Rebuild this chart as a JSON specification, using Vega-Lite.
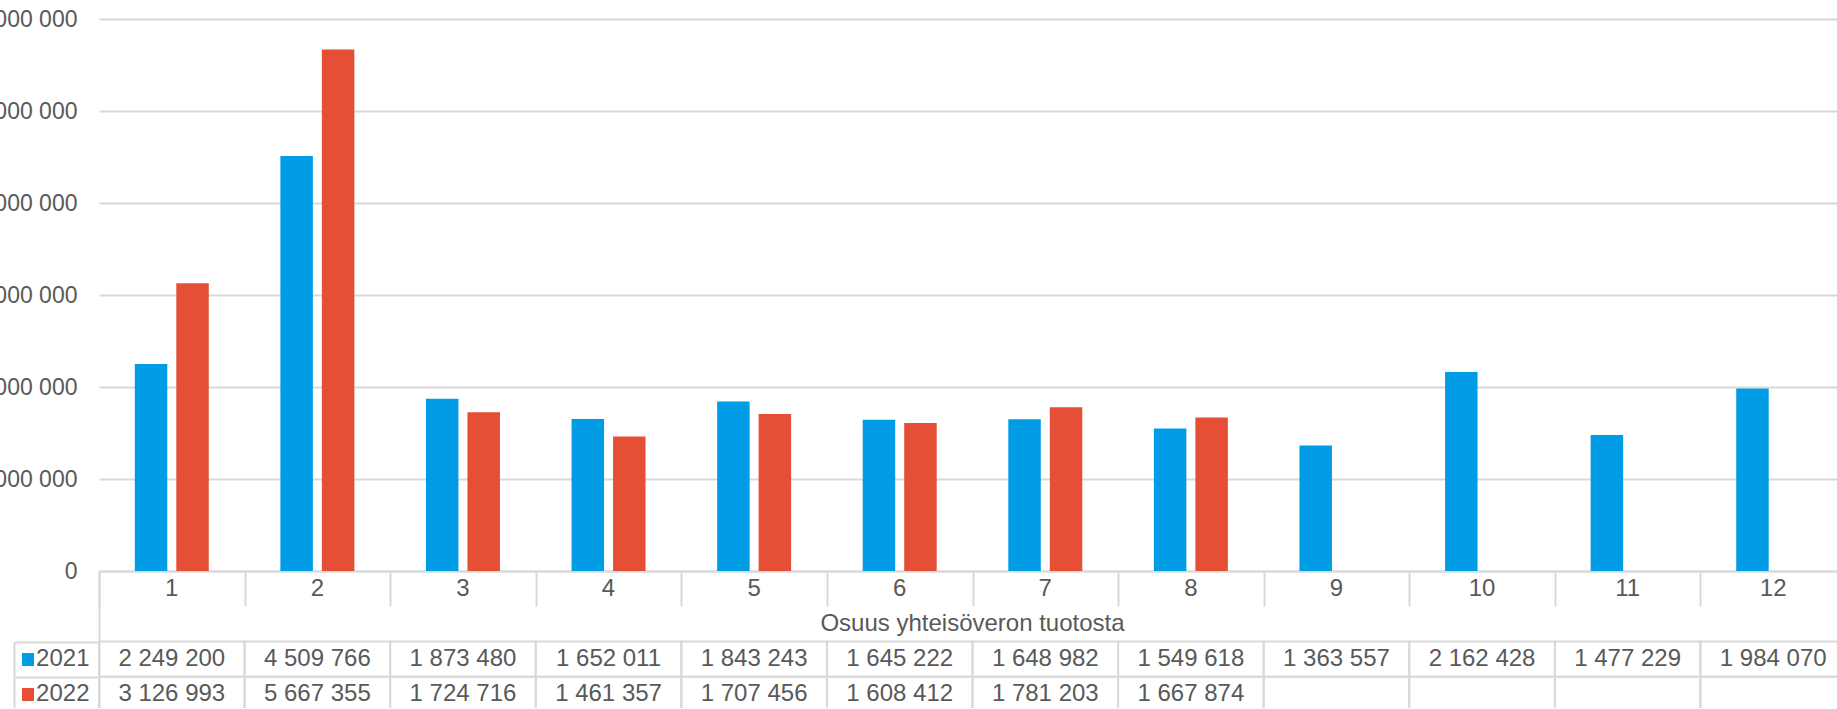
{
  "$schema": "https://vega.github.io/schema/vega-lite/v6.json",
  "padding": {"left": -26, "top": 8, "right": -9, "bottom": -5},
  "background": "white",
  "datasets": {
    "vals": [
      {"cat": 1, "year": "2021", "value": 2249200},
      {"cat": 2, "year": "2021", "value": 4509766},
      {"cat": 3, "year": "2021", "value": 1873480},
      {"cat": 4, "year": "2021", "value": 1652011},
      {"cat": 5, "year": "2021", "value": 1843243},
      {"cat": 6, "year": "2021", "value": 1645222},
      {"cat": 7, "year": "2021", "value": 1648982},
      {"cat": 8, "year": "2021", "value": 1549618},
      {"cat": 9, "year": "2021", "value": 1363557},
      {"cat": 10, "year": "2021", "value": 2162428},
      {"cat": 11, "year": "2021", "value": 1477229},
      {"cat": 12, "year": "2021", "value": 1984070},
      {"cat": 1, "year": "2022", "value": 3126993},
      {"cat": 2, "year": "2022", "value": 5667355},
      {"cat": 3, "year": "2022", "value": 1724716},
      {"cat": 4, "year": "2022", "value": 1461357},
      {"cat": 5, "year": "2022", "value": 1707456},
      {"cat": 6, "year": "2022", "value": 1608412},
      {"cat": 7, "year": "2022", "value": 1781203},
      {"cat": 8, "year": "2022", "value": 1667874},
      {"cat": 9, "year": "2022", "value": null},
      {"cat": 10, "year": "2022", "value": null},
      {"cat": 11, "year": "2022", "value": null},
      {"cat": 12, "year": "2022", "value": null}
    ]
  },
  "vconcat": [
    {
      "width": 1747,
      "height": 552,
      "data": {"name": "vals"},
      "mark": {"type": "bar"},
      "encoding": {
        "x": {
          "field": "cat", "type": "ordinal",
          "scale": {"paddingInner": 0, "paddingOuter": 0},
          "axis": {
            "title": null, "labels": false, "grid": false,
            "domain": true, "domainColor": "#d9d9d9", "domainWidth": 2,
            "ticks": true, "tickBand": "extent", "tickSize": 35, "tickWidth": 2, "tickColor": "#d9d9d9"
          }
        },
        "xOffset": {
          "field": "year", "type": "nominal",
          "scale": {"paddingInner": 0.217, "paddingOuter": 0.863}
        },
        "y": {
          "field": "value", "type": "quantitative",
          "scale": {"domain": [0, 6000000], "nice": false},
          "axis": {
            "title": null, "domain": false, "ticks": false,
            "values": [0, 1000000, 2000000, 3000000, 4000000, 5000000, 6000000],
            "format": ",d",
            "labelPadding": 22, "labelFontSize": 23, "labelColor": "#595959", "labelFont": "Liberation Sans",
            "grid": true, "gridColor": "#d9d9d9", "gridWidth": 2
          }
        },
        "color": {
          "field": "year", "type": "nominal",
          "scale": {"domain": ["2021", "2022"], "range": ["#009ce6", "#e44f35"]},
          "legend": null
        }
      }
    },
    {
      "width": 1747,
      "height": 141,
      "layer": [
        {
          "data": {"name": "vals"},
          "mark": {"type": "rect", "fill": "transparent", "stroke": "#d9d9d9", "strokeWidth": 2},
          "encoding": {
            "x": {"field": "cat", "type": "ordinal", "scale": {"paddingInner": 0, "paddingOuter": 0}, "axis": null},
            "y": {
              "field": "year", "type": "nominal",
              "scale": {"domain": ["cat", "title", "2021", "2022"], "paddingInner": 0, "paddingOuter": 0},
              "axis": {
                "orient": "left", "title": null, "grid": false,
                "domain": true, "domainColor": "#d9d9d9", "domainWidth": 2,
                "ticks": false, "tickSize": 0,
                "labelPadding": 10, "labelFontSize": 24, "labelColor": "#595959", "labelFont": "Liberation Sans",
                "labelExpr": "datum.value == 'cat' || datum.value == 'title' ? '' : datum.value"
              }
            }
          }
        },
        {
          "data": {"name": "vals"},
          "transform": [{"filter": "datum.value != null"}],
          "mark": {"type": "text", "fontSize": 24, "font": "Liberation Sans", "color": "#595959", "baseline": "middle", "align": "center"},
          "encoding": {
            "x": {"field": "cat", "type": "ordinal", "axis": null},
            "y": {
              "field": "year", "type": "nominal",
              "axis": {
                "orient": "left", "offset": 85, "title": null, "labels": false, "grid": false,
                "domain": true, "domainColor": "#d9d9d9", "domainWidth": 2, "domainDash": [0, 70.5, 300],
                "ticks": true, "tickBand": "extent", "tickSize": -85, "tickWidth": 2,
                "tickColor": {"condition": {"test": "datum.value == 'title' || datum.value == '2021' || datum.value == '2022'", "value": "#d9d9d9"}, "value": "transparent"}
              }
            },
            "text": {"field": "value", "type": "quantitative", "format": ",d"}
          }
        },
        {
          "data": {"name": "vals"},
          "transform": [{"filter": "datum.year == '2021'"}],
          "mark": {"type": "text", "fontSize": 24, "font": "Liberation Sans", "color": "#595959", "baseline": "middle", "align": "center"},
          "encoding": {
            "x": {"field": "cat", "type": "ordinal", "axis": null},
            "y": {
              "datum": "cat", "type": "nominal",
              "axis": {
                "orient": "left", "offset": 85, "title": null, "labels": false, "grid": false, "domain": false,
                "ticks": true, "tickBand": "center", "tickSize": -20, "tickWidth": 13, "tickDash": [0, 7.5, 12, 100],
                "tickColor": {"condition": [
                  {"test": "datum.value == '2021'", "value": "#009ce6"},
                  {"test": "datum.value == '2022'", "value": "#e44f35"}
                ], "value": "transparent"}
              }
            },
            "text": {"field": "cat", "type": "ordinal"}
          }
        },
        {
          "data": {"values": [{"label": "Osuus yhteisöveron tuotosta"}]},
          "mark": {"type": "text", "fontSize": 24, "font": "Liberation Sans", "color": "#595959", "baseline": "middle", "align": "center"},
          "encoding": {
            "x": {"datum": 6, "type": "ordinal", "bandPosition": 1, "axis": null},
            "y": {"datum": "title", "type": "nominal", "axis": null},
            "text": {"field": "label", "type": "nominal"}
          }
        }
      ],
      "resolve": {"axis": {"y": "independent"}}
    }
  ],
  "spacing": 0,
  "bounds": "flush",
  "config": {
    "view": {"stroke": null},
    "font": "Liberation Sans",
    "locale": {"number": {"decimal": ",", "thousands": " ", "grouping": [3], "currency": ["", " €"]}}
  }
}
